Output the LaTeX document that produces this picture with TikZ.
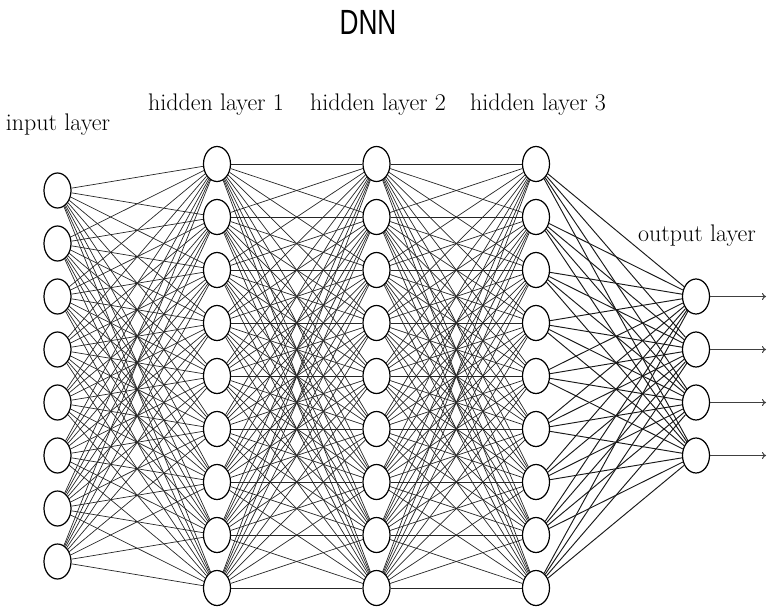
\documentclass[tikz,border=0pt]{standalone}
\usepackage{fontspec}
\usetikzlibrary{shapes.geometric,arrows.meta}
\newfontfamily\titlefont{Liberation Sans}
\begin{document}
\begin{tikzpicture}[x=1pt,y=-1pt,
  neuron/.style={ellipse,draw,line width=1.2pt,fill=white,
    minimum width=27pt,minimum height=35pt,inner sep=0pt},
  synapse/.style={line width=0.7pt,black!85},
  outsynapse/.style={line width=0.95pt,black!90},
  outarrow/.style={line width=1pt,black!75,-{To[length=4pt,width=7pt]}},
  layerlabel/.style={font=\fontsize{24}{28}\selectfont,anchor=base,inner sep=0pt}]
\useasboundingbox (0,0) rectangle (768,608);

% title
\node[font=\titlefont\fontsize{35}{40}\selectfont,anchor=base,inner sep=0pt]
  (title) at (368,34) {\scalebox{0.75}[1]{DNN}};

% neurons: input (I), three hidden layers (A, B, C), output (O)
\foreach \i in {1,...,8}
  \node[neuron] (I\i) at (57.5,{376+(\i-4.5)*53}) {};
\foreach \i in {1,...,9} {
  \node[neuron] (A\i) at (217,{376+(\i-5)*53}) {};
  \node[neuron] (B\i) at (376.5,{376+(\i-5)*53}) {};
  \node[neuron] (C\i) at (536,{376+(\i-5)*53}) {};
}
\foreach \i in {1,...,4}
  \node[neuron] (O\i) at (696,{376+(\i-2.5)*53}) {};

% fully connected weights
\foreach \i in {1,...,8}
  \foreach \j in {1,...,9}
    \draw[synapse] (I\i) -- (A\j);
\foreach \i in {1,...,9}
  \foreach \j in {1,...,9} {
    \draw[synapse] (A\i) -- (B\j);
    \draw[synapse] (B\i) -- (C\j);
  }
\foreach \i in {1,...,9}
  \foreach \j in {1,...,4}
    \draw[outsynapse] (C\i) -- (O\j);

% outputs
\foreach \i in {1,...,4} {
  \coordinate (out\i) at (766,{376+(\i-2.5)*53});
  \draw[outarrow] (O\i) -- (out\i);
}

% layer labels
\node[layerlabel] (lin) at (58,130) {input layer};
\node[layerlabel] (lh1) at (216,110) {hidden layer 1};
\node[layerlabel] (lh2) at (378,110) {hidden layer 2};
\node[layerlabel] (lh3) at (538,110) {hidden layer 3};
\node[layerlabel] (lout) at (697,241) {output layer};
\end{tikzpicture}
\end{document}
